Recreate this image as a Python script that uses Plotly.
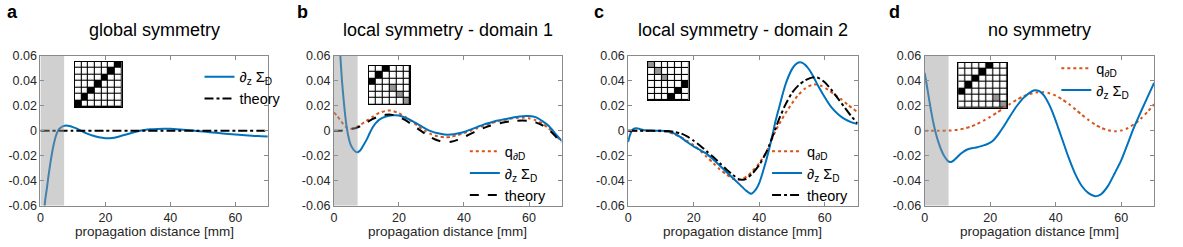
import plotly.graph_objects as go

# ---------------- data ----------------
titles = ["global symmetry", "local symmetry - domain 1", "local symmetry - domain 2", "no symmetry"]
panel_letters = ["a", "b", "c", "d"]
x_ticks = [0, 20, 40, 60]
x_ticktext = ["0", "20", "40", "60"]
y_ticks = [-0.06, -0.04, -0.02, 0, 0.02, 0.04, 0.06]
y_ticktext = ["-0.06", "-0.04", "-0.02", "0", "0.02", "0.04", "0.06"]
x_label = "propagation distance [mm]"
shade_end = 7.3  # mm, shaded near-field region (panels a, b, d)

# panel a
a_blue_x = [1.0, 1.5, 2, 2.5, 3, 3.5, 4, 4.5, 5, 5.5, 6, 7, 8, 9, 10, 12, 14, 16, 18, 20, 22, 24, 26, 28, 30,
            32, 34, 36, 38, 40, 42, 44, 46, 48, 50, 52, 54, 56, 58, 60, 62, 64, 66, 68, 70]
a_blue_y = [-0.07, -0.055, -0.046, -0.036, -0.027, -0.019, -0.012, -0.0065, -0.0025, 0.0005, 0.002, 0.0038,
            0.0043, 0.0038, 0.003, 0.0008, -0.0018, -0.0038, -0.0052, -0.0059, -0.0058, -0.0047, -0.0032,
            -0.0017, -0.0004, 0.0006, 0.0012, 0.0015, 0.0016, 0.0016, 0.0013, 0.0009, 0.0004, -0.0001,
            -0.0006, -0.0011, -0.0016, -0.0021, -0.0026, -0.003, -0.0034, -0.0038, -0.0041, -0.0043, -0.0045]
a_theory_x = [0, 10, 20, 30, 40, 50, 60, 70]
a_theory_y = [0, 0, 0, 0, 0, 0, 0, 0]

# panel b
b_blue_x = [1.5, 2, 2.5, 3, 3.5, 4, 4.5, 5, 6, 7, 8, 9, 10, 11, 12, 13, 14, 16, 18, 20, 22, 24, 26, 28, 30,
            32, 34, 36, 38, 40, 42, 44, 46, 48, 50, 52, 54, 56, 58, 60, 62, 64, 66, 68, 70]
b_blue_y = [0.085, 0.06, 0.04, 0.025, 0.012, 0.002, -0.005, -0.010, -0.015, -0.0173, -0.016, -0.012, -0.0075,
            -0.002, 0.003, 0.0065, 0.009, 0.0115, 0.0125, 0.0123, 0.0105, 0.008, 0.005, 0.002, -0.0005, -0.002,
            -0.003, -0.003, -0.0022, -0.001, 0.001, 0.003, 0.005, 0.0065, 0.008, 0.009, 0.010, 0.011, 0.0117,
            0.0118, 0.011, 0.008, 0.004, -0.002, -0.008]
b_q_x = [0, 1, 2, 3, 4, 5, 6, 7, 8, 10, 12, 14, 16, 17, 18, 20, 22, 24, 26, 28, 30, 32, 34, 36, 38, 40, 42,
         44, 46, 48, 50, 52, 54, 56, 58, 60, 62, 64, 66, 68, 70]
b_q_y = [0.0148, 0.012, 0.0085, 0.005, 0.0025, 0.0015, 0.002, 0.003, 0.0045, 0.008, 0.0115, 0.0145, 0.016,
         0.0163, 0.016, 0.014, 0.011, 0.0075, 0.0035, 0.0, -0.0028, -0.0045, -0.0052, -0.0048, -0.0035,
         -0.0018, 0.0, 0.002, 0.004, 0.0058, 0.0073, 0.0086, 0.0096, 0.0103, 0.0105, 0.01, 0.0085, 0.0058,
         0.002, -0.003, -0.009]
b_theory_x = [0, 2, 4, 6, 7, 8, 10, 12, 14, 16, 17, 18, 20, 22, 24, 26, 28, 30, 32, 34, 36, 38, 40, 42, 44,
              46, 48, 50, 52, 54, 56, 58, 60, 62, 64, 66, 68, 70]
b_theory_y = [0, 0.0001, 0.0007, 0.0018, 0.0025, 0.0035, 0.0065, 0.0095, 0.0118, 0.0128, 0.013, 0.0128,
              0.0112, 0.0085, 0.005, 0.0013, -0.0022, -0.0055, -0.0078, -0.009, -0.0088, -0.0073, -0.005,
              -0.0025, 0.0, 0.0022, 0.004, 0.0055, 0.0066, 0.0075, 0.0081, 0.0083, 0.008, 0.0068, 0.0045,
              0.001, -0.004, -0.0105]

# panel c
c_blue_x = [0, 0.5, 1, 1.5, 2.5, 3.5, 5, 7, 10, 12, 14, 16, 18, 20, 22, 24, 26, 28, 30, 32, 34, 36, 37.5,
            39, 40, 41, 42, 43, 44, 45, 46, 47, 48, 49, 50, 51, 52, 52.5, 53, 54, 55, 56, 57, 58, 60, 62, 64,
            66, 68, 70]
c_blue_y = [-0.009, -0.004, -0.0005, 0.0012, 0.002, 0.0015, 0.0005, 0.0002, 0.0, -0.0005, -0.002, -0.005,
            -0.009, -0.0125, -0.0155, -0.0185, -0.023, -0.028, -0.033, -0.038, -0.043, -0.048, -0.0505,
            -0.047, -0.042, -0.034, -0.025, -0.015, -0.004, 0.008, 0.018, 0.028, 0.037, 0.044, 0.0495, 0.053,
            0.0548, 0.055, 0.0547, 0.053, 0.05, 0.046, 0.041, 0.036, 0.027, 0.019, 0.0135, 0.0095, 0.007, 0.0055]
c_q_x = [0, 5, 10, 12, 14, 16, 18, 20, 22, 24, 26, 28, 30, 32, 33.5, 35, 36.5, 38, 40, 42, 43, 44, 45, 46,
         48, 50, 52, 54, 56, 57.5, 59, 61, 63, 65, 67, 70]
c_q_y = [0, 0, -0.0003, -0.0008, -0.0025, -0.005, -0.008, -0.0115, -0.016, -0.021, -0.026, -0.031, -0.035,
         -0.0385, -0.0395, -0.0385, -0.036, -0.032, -0.026, -0.018, -0.0125, -0.006, 0.0, 0.005, 0.014,
         0.022, 0.029, 0.034, 0.0368, 0.0372, 0.036, 0.033, 0.029, 0.0255, 0.021, 0.015]
c_theory_x = [0, 5, 10, 12, 14, 16, 18, 20, 22, 24, 26, 28, 30, 32, 34, 35, 36, 38, 40, 42, 43, 44, 45, 46,
              48, 50, 52, 54, 56, 57, 58, 60, 62, 64, 66, 68, 70]
c_theory_y = [0, 0, 0, -0.0002, -0.0008, -0.002, -0.0045, -0.008, -0.012, -0.0165, -0.021, -0.026, -0.031,
              -0.0355, -0.039, -0.0393, -0.0385, -0.034, -0.0275, -0.018, -0.012, -0.005, 0.002, 0.009, 0.021,
              0.0305, 0.0365, 0.0405, 0.0427, 0.043, 0.0425, 0.039, 0.033, 0.026, 0.019, 0.012, 0.006]

# panel d
d_blue_x = [0, 0.5, 1, 1.5, 2, 2.5, 3, 3.5, 4, 5, 6, 7, 7.5, 8, 9, 10, 11, 12, 13, 14, 15, 16, 17, 18, 19,
            20, 21, 22, 23, 24, 26, 28, 30, 32, 33.5, 35, 36, 37, 38, 39, 40, 41, 42, 44, 46, 48, 50, 52, 53,
            54, 56, 58, 60, 62, 63, 64, 66, 68, 70]
d_blue_y = [0.0465, 0.039, 0.031, 0.023, 0.0155, 0.0085, 0.0025, -0.003, -0.0075, -0.015, -0.0205, -0.024,
            -0.0248, -0.025, -0.0235, -0.021, -0.0185, -0.0165, -0.015, -0.0142, -0.0137, -0.0132, -0.0125,
            -0.0117, -0.0108, -0.0095, -0.0075, -0.0045, -0.0008, 0.003, 0.0115, 0.0195, 0.026, 0.0305,
            0.0325, 0.0318, 0.0295, 0.026, 0.021, 0.015, 0.008, 0.0005, -0.007, -0.022, -0.035, -0.0445,
            -0.05, -0.0525, -0.052, -0.0505, -0.044, -0.034, -0.0235, -0.01, -0.003, 0.0035, 0.0155, 0.027,
            0.0385]
d_q_x = [0, 4, 8, 10, 12, 14, 16, 18, 20, 22, 24, 26, 28, 30, 32, 34, 36, 38, 40, 42, 44, 46, 48, 50, 52,
         54, 56, 58, 60, 62, 64, 66, 68, 70]
d_q_y = [0, 0, 0.0003, 0.0008, 0.0018, 0.0033, 0.0055, 0.0082, 0.0112, 0.0145, 0.018, 0.0215, 0.0248,
         0.0275, 0.0295, 0.0308, 0.031, 0.0302, 0.0282, 0.0252, 0.0215, 0.0172, 0.0128, 0.0087, 0.005,
         0.0022, 0.0004, -0.0004, 0.0002, 0.0022, 0.0055, 0.0098, 0.0152, 0.0213]

# inset coupling matrices (0 = empty, 1 = grey, 2 = black)
mat_a = [[0, 0, 0, 0, 0, 0, 2],
         [0, 0, 0, 0, 0, 2, 0],
         [0, 0, 0, 0, 2, 0, 0],
         [0, 0, 0, 2, 0, 0, 0],
         [0, 0, 2, 0, 0, 0, 0],
         [0, 2, 0, 0, 0, 0, 0],
         [2, 0, 0, 0, 0, 0, 0]]
mat_b = [[0, 0, 2, 0, 0, 0],
         [0, 2, 0, 0, 0, 0],
         [2, 0, 0, 0, 0, 0],
         [0, 0, 0, 1, 0, 0],
         [0, 0, 0, 0, 1, 0],
         [0, 0, 0, 0, 0, 1]]
mat_c = [[1, 0, 0, 0, 0, 0],
         [0, 1, 0, 0, 0, 0],
         [0, 0, 1, 0, 0, 0],
         [0, 0, 0, 0, 0, 2],
         [0, 0, 0, 0, 2, 0],
         [0, 0, 0, 2, 0, 0]]
mat_d = [[0, 0, 0, 0, 2, 0, 0],
         [0, 0, 0, 2, 0, 0, 0],
         [0, 0, 2, 0, 0, 0, 0],
         [0, 2, 0, 0, 0, 0, 0],
         [2, 0, 0, 0, 0, 0, 0],
         [0, 0, 0, 0, 0, 1, 0],
         [0, 0, 0, 0, 0, 0, 1]]

# ---------------- style / layout ----------------
W, H = 1183, 247
FONT = "Liberation Sans, Arial, Helvetica, sans-serif"
BLUE = "#0072BD"
ORANGE = "#D95319"
BLACK = "#000000"
AXCOL = "#8a8a8a"
TXT = "#262626"

panel_px = [(37.5, 265.5), (331.7, 560.0), (626.7, 856.7), (924.0, 1154.0)]
plot_top, plot_bot = 52.0, 210.5
inset_px = [((72, 119), (58, 106)), ((366.7, 408.3), (62.3, 103.3)),
            ((646.7, 687.3), (58.3, 99)), ((957.7, 1006.7), (59, 106.7))]
legend_px = [(197, 57), (463, 136), (766, 136), (1056, 48)]
letter_px = [2, 293, 590, 886]

LBL_Q = "q<sub>∂D</sub>"
LBL_S = "∂<sub>z</sub> Σ<sub>D</sub>"
LBL_T = "theory"


def px2x(p):
    return p / W


def px2y(p):
    return 1 - p / H


fig = go.Figure()

series = [
    [(a_blue_x, a_blue_y, LBL_S, BLUE, "solid"), (a_theory_x, a_theory_y, LBL_T, BLACK, "dashdot")],
    [(b_q_x, b_q_y, LBL_Q, ORANGE, "dot"), (b_blue_x, b_blue_y, LBL_S, BLUE, "solid"),
     (b_theory_x, b_theory_y, LBL_T, BLACK, "dash")],
    [(c_q_x, c_q_y, LBL_Q, ORANGE, "dot"), (c_blue_x, c_blue_y, LBL_S, BLUE, "solid"),
     (c_theory_x, c_theory_y, LBL_T, BLACK, "dashdot")],
    [(d_q_x, d_q_y, LBL_Q, ORANGE, "dot"), (d_blue_x, d_blue_y, LBL_S, BLUE, "solid")],
]
mats = [mat_a, mat_b, mat_c, mat_d]
shaded = [True, True, False, True]

layout = dict(
    width=W, height=H, margin=dict(l=0, r=0, t=0, b=0),
    paper_bgcolor="white", plot_bgcolor="rgba(0,0,0,0)",
    font=dict(family=FONT, size=12, color=TXT),
    showlegend=True, shapes=[], annotations=[],
)

for i in range(4):
    sx = "" if i == 0 else str(i + 1)
    lg = "legend" if i == 0 else "legend" + str(i + 1)
    for (xs, ys, name, col, dash) in series[i]:
        fig.add_trace(go.Scatter(
            x=xs, y=ys, mode="lines", name=name, legend=lg,
            line=dict(color=col, width=2, dash=dash, shape="spline", smoothing=0.6),
            xaxis="x" + sx, yaxis="y" + sx, hoverinfo="skip"))
    x0p, x1p = panel_px[i]
    layout["xaxis" + sx] = dict(
        domain=[px2x(x0p), px2x(x1p)], anchor="y" + sx, range=[0, 70],
        tickvals=x_ticks, ticktext=x_ticktext, ticks="inside", ticklen=4, tickcolor=AXCOL,
        showline=True, linecolor=AXCOL, linewidth=1, mirror="ticks", showgrid=False, zeroline=False,
        tickfont=dict(size=12.5, color=TXT, family=FONT))
    layout["yaxis" + sx] = dict(
        domain=[px2y(plot_bot), px2y(plot_top)], anchor="x" + sx, range=[-0.06, 0.06],
        tickvals=y_ticks, ticktext=y_ticktext, ticks="inside", ticklen=4, tickcolor=AXCOL,
        showline=True, linecolor=AXCOL, linewidth=1, mirror="ticks", showgrid=False, zeroline=False,
        tickfont=dict(size=12.5, color=TXT, family=FONT))
    lx, ly = legend_px[i]
    layout[lg] = dict(x=px2x(lx), y=px2y(ly), xanchor="left", yanchor="top",
                      xref="paper", yref="paper",
                      bgcolor="rgba(0,0,0,0)", borderwidth=0, tracegroupgap=0,
                      font=dict(size=14.5, color=BLACK, family=FONT))
    # titles, letters, x labels
    cx = px2x((x0p + x1p) / 2)
    layout["annotations"].append(dict(text=titles[i], x=cx, y=px2y(24), xref="paper", yref="paper",
                                      showarrow=False, xanchor="center", yanchor="middle",
                                      font=dict(size=18, color=BLACK, family=FONT)))
    layout["annotations"].append(dict(text="<b>" + panel_letters[i] + "</b>",
                                      x=px2x(letter_px[i]), y=px2y(5), xref="paper", yref="paper",
                                      showarrow=False, xanchor="left", yanchor="middle",
                                      font=dict(size=18, color=BLACK, family=FONT)))
    layout["annotations"].append(dict(text=x_label, x=cx, y=px2y(238), xref="paper", yref="paper",
                                      showarrow=False, xanchor="center", yanchor="middle",
                                      font=dict(size=13.5, color=TXT, family=FONT)))
    if shaded[i]:
        layout["shapes"].append(dict(type="rect", xref="x" + sx, yref="y" + sx + " domain",
                                     x0=0, x1=shade_end, y0=0, y1=1, fillcolor="rgb(150,150,150)",
                                     opacity=0.45, line=dict(width=0), layer="above"))

    # inset matrix
    k = i + 5
    m = mats[i]
    n = len(m)
    (ix0, ix1), (iy0, iy1) = inset_px[i]
    layout["shapes"].append(dict(type="rect", xref="paper", yref="paper",
                                 x0=px2x(ix0), x1=px2x(ix1), y0=px2y(iy1), y1=px2y(iy0),
                                 fillcolor="black", line=dict(width=0), layer="below"))
    fig.add_trace(go.Heatmap(z=m, xaxis="x" + str(k), yaxis="y" + str(k), zmin=0, zmax=2,
                             colorscale=[[0, "white"], [0.5, "#969696"], [1, "black"]],
                             showscale=False, xgap=1.1, ygap=1.1, hoverinfo="skip"))
    layout["xaxis" + str(k)] = dict(domain=[px2x(ix0), px2x(ix1)], anchor="y" + str(k),
                                    range=[-0.5, n - 0.5], showticklabels=False, ticks="",
                                    showgrid=False, zeroline=False, showline=True, linecolor="black",
                                    linewidth=1.2, mirror=True, fixedrange=True)
    layout["yaxis" + str(k)] = dict(domain=[px2y(iy1), px2y(iy0)], anchor="x" + str(k),
                                    range=[n - 0.5, -0.5], showticklabels=False, ticks="",
                                    showgrid=False, zeroline=False, showline=True, linecolor="black",
                                    linewidth=1.2, mirror=True, fixedrange=True)

fig.update_layout(**layout)
fig.write_html("out.html")
